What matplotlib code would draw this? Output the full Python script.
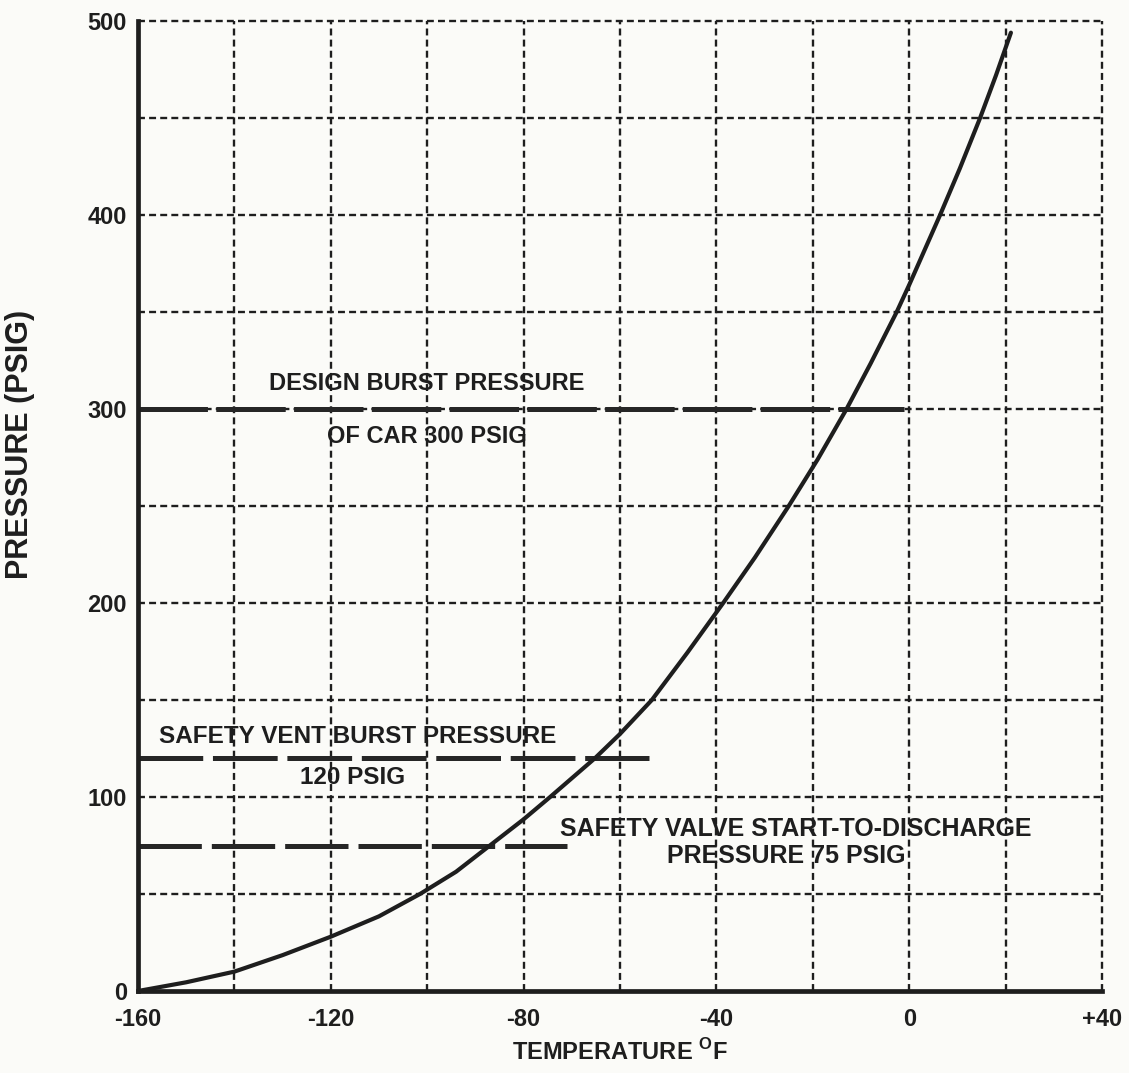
import matplotlib
matplotlib.use("Agg")
import matplotlib.pyplot as plt

plt.rcParams['font.family'] = ['Liberation Sans', 'DejaVu Sans']
plt.rcParams['font.weight'] = 'bold'
plt.rcParams['mathtext.fontset'] = 'custom'
plt.rcParams['mathtext.rm'] = 'Liberation Sans:bold'
plt.rcParams['mathtext.bf'] = 'Liberation Sans:bold'
plt.rcParams['lines.scale_dashes'] = False

# vapor pressure curve
temp_f = [-160, -150, -140, -130, -120, -110, -101.5, -94, -87, -80,
          -74.5, -65.2, -60, -53.4, -46, -38.6, -32, -25, -19, -13,
          -8, -2.6, 0, 6.4, 10.5, 14.7, 18, 21.1]
pressure_psig = [0, 4.5, 10, 18.5, 28, 38.5, 50, 61.5, 75, 88.5,
                 100, 120, 132.5, 150, 174.5, 200, 223.5, 250, 274, 300,
                 323.5, 350, 364, 400, 424, 450, 472, 494]

# horizontal reference levels and where each dashed line stops
ref_levels = [300, 120, 75]
ref_ends = [-1, -54, -71]

x_ticks = [-160, -120, -80, -40, 0, 40]
x_labels = ['-160', '-120', '-80', '-40', '0', '+40']
y_ticks = [0, 100, 200, 300, 400, 500]

ink = '#1e1e1e'

fig = plt.figure(figsize=(11.29, 10.73), dpi=100)
fig.patch.set_facecolor('#fbfbf8')
ax = fig.add_axes([0.1222, 0.0764, 0.8539, 0.904])
ax.set_facecolor('#fbfbf8')

ax.set_xlim(-160, 40)
ax.set_ylim(0, 500)

# grid: verticals every 20 F, horizontals every 50 psig
grid_kw = dict(color=ink, linewidth=1.7, dashes=(5, 3), zorder=1, clip_on=False)
for gx in range(-140, 41, 20):
    ax.axvline(gx, **grid_kw)
for gy in range(50, 501, 50):
    ax.axhline(gy, **grid_kw)

for side in ['top', 'right']:
    ax.spines[side].set_visible(False)
for side in ['left', 'bottom']:
    ax.spines[side].set_linewidth(3.4)
    ax.spines[side].set_color(ink)

# reference dashed lines
dash_styles = [(50, 6), (46.6, 7), (45.6, 7.2)]
for lvl, end, ds in zip(ref_levels, ref_ends, dash_styles):
    ax.plot([-160, end], [lvl, lvl], color='#262626', linewidth=3.6,
            dashes=ds, solid_capstyle='butt', zorder=2)

ax.plot(temp_f, pressure_psig, color=ink, linewidth=3.0,
        solid_capstyle='round', solid_joinstyle='round', zorder=3)

ax.set_xticks(x_ticks)
ax.set_xticklabels(x_labels)
ax.set_yticks(y_ticks)
ax.tick_params(length=0, labelsize=17, colors=ink)
ax.tick_params(axis='x', pad=12)
ax.tick_params(axis='y', pad=8)
for lab in ax.get_xticklabels() + ax.get_yticklabels():
    lab.set_fontweight('bold')

ax.set_xlabel(r'TEMPERATURE $^\mathregular{O}$F', fontsize=17, fontweight='bold',
              color=ink, va='center')
ax.xaxis.set_label_coords(0.5, -0.063)
ax.set_ylabel('PRESSURE (PSIG)', fontsize=22, fontweight='bold', color=ink,
              va='center')
ax.yaxis.set_label_coords(-0.122, 0.563)

txt_kw = dict(fontweight='bold', ha='center', va='center', color=ink, zorder=4)
ax.text(-100, 313, 'DESIGN BURST PRESSURE', fontsize=17, **txt_kw)
ax.text(-100, 286, 'OF CAR 300 PSIG', fontsize=17, **txt_kw)
ax.text(-114.5, 131, 'SAFETY VENT BURST PRESSURE', fontsize=17.5, **txt_kw)
ax.text(-115.5, 110, '120 PSIG', fontsize=17.5, **txt_kw)
ax.text(-23.5, 83.5, 'SAFETY VALVE START-TO-DISCHARGE', fontsize=18, **txt_kw)
ax.text(-25.5, 69.5, 'PRESSURE 75 PSIG', fontsize=18, **txt_kw)

fig.savefig('out.png', dpi=100, facecolor=fig.get_facecolor())
